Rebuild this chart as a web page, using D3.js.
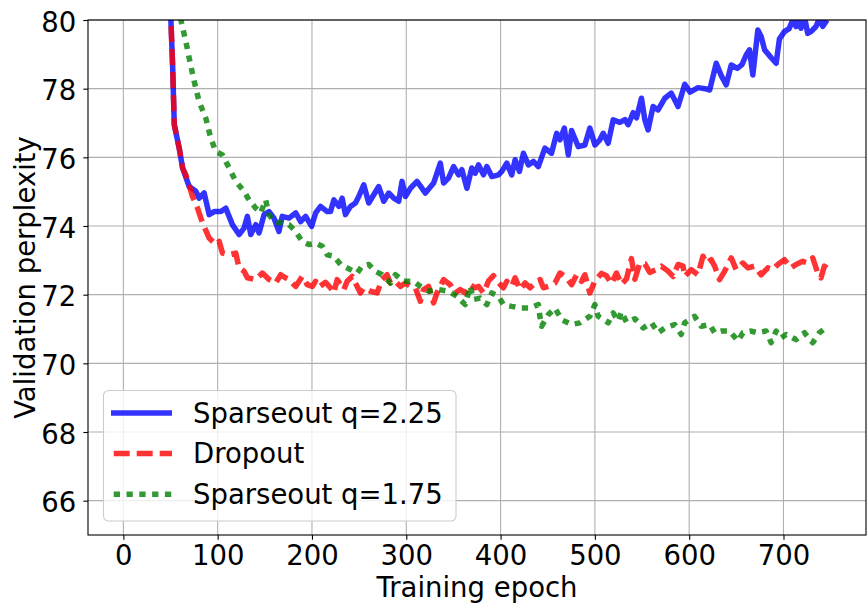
<!DOCTYPE html>
<html>
<head>
<meta charset="utf-8">
<script src="https://cdn.jsdelivr.net/npm/d3@7"></script>
<style>
  html, body { margin: 0; padding: 0; background: #ffffff; }
  svg { display: block; font-family: "DejaVu Sans", sans-serif; }
</style>
</head>
<body>
<svg id="chart" width="868" height="604"></svg>
<script>
// Validation perplexity per training epoch for three regularisation settings.
const xTicks = [0, 100, 200, 300, 400, 500, 600, 700];
const yTicks = [66, 68, 70, 72, 74, 76, 78, 80];
const seriesLabels = ["Sparseout q=2.25", "Dropout", "Sparseout q=1.75"];

const sparseHighEpochs = [47, 50.4, 52.2, 54, 59.2, 62.8, 69.8, 76.9, 80.4, 85.7, 91, 96.3, 103.3, 108.6, 115.6, 122.7, 128, 131.5, 135.1, 140.4, 143.9, 149.2, 154.5, 159.7, 165, 168.5, 175.6, 182.7, 188, 193.3, 199.6, 203.9, 209.1, 216.1, 219.7, 223.2, 228.5, 232, 235.5, 240.8, 246.1, 249.6, 254.9, 260.2, 265.5, 270.8, 276.1, 281.4, 286.7, 292, 295.5, 299.1, 304.4, 311.4, 320.3, 329, 336.1, 339.6, 344.9, 350.2, 355.5, 359, 364.3, 369.5, 373.1, 376.6, 381.9, 385.4, 390.7, 397.8, 401.3, 406.6, 411.8, 415.4, 420, 424.2, 429.5, 434.8, 440, 447, 454, 459.5, 463, 467.6, 471.8, 475.3, 482.4, 489.4, 494.7, 500, 505.3, 508.8, 514.1, 519.4, 526.5, 531.8, 535.3, 540.6, 544.1, 549.4, 553, 556.4, 561.7, 567, 574.1, 581, 588.2, 595.3, 601, 609.3, 617, 621.7, 628.7, 634, 639.3, 644.6, 651, 656, 660.4, 664, 667.5, 672.8, 676.3, 680, 687, 692.2, 695.7, 701, 706, 709.8, 713.3, 715.1, 718.6, 722.2, 725.7, 729.2, 734.5, 738, 741.6, 746.2];
const sparseHighValues = [82.5, 80.0, 78.7, 76.95, 76.27, 75.69, 75.15, 75.01, 74.81, 74.96, 74.33, 74.42, 74.42, 74.52, 74.04, 73.75, 73.94, 74.28, 73.75, 74.04, 73.80, 74.33, 74.42, 74.23, 73.84, 74.28, 74.23, 74.38, 74.13, 74.28, 73.99, 74.38, 74.57, 74.42, 74.42, 74.76, 74.57, 74.81, 74.33, 74.57, 74.67, 74.86, 75.20, 74.67, 74.91, 75.15, 74.72, 74.96, 74.81, 74.72, 75.30, 74.86, 75.10, 75.30, 74.96, 75.25, 75.83, 75.25, 75.40, 75.73, 75.49, 75.64, 75.10, 75.69, 75.54, 75.78, 75.49, 75.73, 75.44, 75.49, 75.59, 75.83, 75.49, 75.93, 75.59, 76.12, 75.78, 75.88, 75.73, 76.27, 76.12, 76.70, 76.51, 76.85, 76.07, 76.78, 76.31, 76.36, 76.85, 76.36, 76.51, 76.70, 76.41, 77.09, 77.02, 77.10, 76.95, 77.30, 77.15, 77.72, 77.09, 76.80, 77.48, 77.38, 77.72, 77.87, 77.48, 78.13, 77.90, 78.03, 78.00, 77.96, 78.74, 78.38, 78.11, 78.69, 78.59, 78.70, 78.98, 79.13, 78.40, 79.71, 79.52, 79.13, 78.90, 78.74, 79.45, 79.66, 79.75, 80.0, 79.81, 79.95, 79.76, 80.1, 79.61, 79.66, 79.81, 80.05, 79.81, 80.0];

const dropoutEpochs = [47, 50.4, 52.2, 54, 59.2, 62.8, 66.3, 73.3, 78.6, 83.9, 91, 98, 101.6, 105.1, 112.1, 119.2, 122.7, 128, 131.5, 140.4, 147.4, 154.5, 161.5, 166.8, 172.1, 175.6, 182.7, 189.7, 195, 200.3, 203.9, 207.4, 214.4, 219.7, 223.2, 226.7, 230.3, 233.8, 237.3, 242.6, 246.1, 251.4, 254.9, 262, 269, 274.3, 279.6, 283.2, 288.4, 293.7, 299, 304.3, 309.6, 314.9, 318.4, 323.7, 329, 332.5, 339.6, 346.6, 351.9, 357.2, 362.5, 367.8, 373.1, 376.6, 381.9, 387.2, 392.5, 397.8, 403, 406.6, 411.8, 415.4, 420.7, 426, 431.3, 436.6, 441.9, 445.4, 450.7, 457.7, 463, 470, 475.3, 480.6, 485.9, 489.4, 494.7, 500, 507, 512.3, 517.6, 522.9, 528.2, 533.5, 538.8, 542.4, 547.7, 553, 558.2, 565.3, 570.5, 577, 582.9, 588.2, 593.5, 595.2, 602.2, 609.3, 614.6, 618.1, 623.4, 627, 632.2, 637.5, 644.6, 649.8, 656.9, 662.2, 669.3, 676.3, 683.4, 688.7, 694, 701, 708, 713.3, 720.4, 725.7, 731, 736.3, 739.8, 743.3, 748.6];
const dropoutValues = [82.5, 80.0, 78.7, 76.95, 76.27, 75.69, 75.49, 74.86, 74.52, 74.09, 73.65, 73.46, 73.55, 73.21, 73.16, 73.21, 72.78, 72.68, 72.49, 72.44, 72.63, 72.44, 72.34, 72.58, 72.49, 72.44, 72.24, 72.53, 72.29, 72.24, 72.39, 72.22, 72.36, 72.20, 72.05, 72.44, 72.29, 72.15, 72.39, 72.53, 72.34, 72.05, 72.20, 72.10, 72.05, 72.44, 72.58, 72.34, 72.39, 72.24, 72.34, 72.24, 72.20, 71.81, 72.15, 72.24, 71.76, 72.05, 72.44, 72.29, 72.05, 72.15, 72.05, 72.29, 72.20, 72.24, 72.05, 72.40, 72.55, 72.35, 72.20, 72.39, 72.24, 72.49, 72.15, 72.34, 72.20, 72.34, 72.44, 72.20, 72.24, 72.34, 72.63, 72.49, 72.29, 72.58, 72.39, 72.58, 72.05, 72.40, 72.62, 72.55, 72.32, 72.63, 72.30, 72.46, 73.05, 72.45, 72.92, 72.90, 72.65, 72.73, 72.83, 72.70, 72.53, 72.88, 72.83, 72.53, 72.73, 72.58, 73.12, 72.92, 73.02, 72.83, 72.44, 72.68, 73.07, 72.73, 72.92, 72.78, 72.83, 72.58, 72.78, 72.73, 72.88, 73.02, 72.78, 72.88, 72.97, 72.92, 73.07, 72.63, 72.49, 72.83, 72.73];

const sparseLowEpochs = [57, 61, 66.3, 69.8, 75.1, 80.4, 87.4, 92.7, 98, 105.1, 112.1, 119.2, 128, 133.3, 140.4, 145.6, 150.9, 154.5, 159.7, 166.8, 175.6, 182.7, 189.7, 196.8, 203.9, 210.9, 216.2, 223.2, 230.3, 240.8, 247.9, 253.2, 260.2, 267.3, 274.3, 283.2, 288.5, 297.2, 307.8, 314.9, 323.7, 334.3, 344.9, 353.7, 362.5, 367.8, 371.3, 378.4, 385.4, 390.7, 397.8, 403, 411.8, 422.4, 431.3, 440.1, 441.9, 443.5, 450.7, 457.7, 464.7, 475.3, 484.2, 494.7, 500, 503.5, 514.1, 519.4, 524.7, 528.2, 533.5, 542.4, 551.2, 560, 567, 574.1, 584.6, 591.6, 595.2, 605.7, 612.8, 621.7, 627, 634, 642.8, 651.7, 657, 665.7, 672.8, 681.6, 686.9, 692.2, 697.5, 702.8, 713.3, 722.2, 731, 738, 745];
const sparseLowValues = [80.8, 80.0, 79.37, 78.89, 78.21, 77.62, 77.14, 76.56, 76.17, 76.07, 75.69, 75.30, 75.01, 74.76, 74.52, 74.38, 74.76, 74.33, 74.13, 74.09, 74.04, 73.84, 73.55, 73.46, 73.50, 73.41, 73.16, 73.12, 72.88, 72.73, 72.63, 72.83, 72.88, 72.68, 72.58, 72.34, 72.58, 72.39, 72.39, 72.24, 72.10, 72.15, 72.10, 71.95, 71.71, 72.24, 71.86, 71.90, 71.71, 72.05, 71.95, 71.71, 71.66, 71.61, 71.61, 71.71, 71.32, 71.08, 71.42, 71.61, 71.27, 71.13, 71.18, 71.37, 71.71, 71.37, 71.18, 71.47, 71.23, 71.50, 71.20, 71.30, 71.03, 71.18, 70.89, 71.03, 71.13, 70.84, 71.18, 71.37, 71.08, 71.13, 70.89, 70.94, 70.94, 70.65, 70.89, 70.94, 70.89, 70.94, 70.60, 70.94, 70.74, 70.84, 70.69, 70.89, 70.60, 70.89, 71.03];

// Plot box and scales
const plot = { left: 88, right: 866, top: 20, bottom: 535 };
const x = d3.scaleLinear().domain([-37.5, 787.5]).range([plot.left, plot.right]);
const y = d3.scaleLinear().domain([65, 80]).range([plot.bottom, plot.top]);

const FONT = 27.5;
const svg = d3.select("#chart");

svg.append("defs").append("clipPath").attr("id", "plot-clip")
  .append("rect")
  .attr("x", plot.left).attr("y", plot.top)
  .attr("width", plot.right - plot.left).attr("height", plot.bottom - plot.top);

// Grid
const grid = svg.append("g").attr("stroke", "#b0b0b0").attr("stroke-width", 1.1);
grid.selectAll("line.gx").data(xTicks).join("line")
  .attr("x1", d => x(d)).attr("x2", d => x(d))
  .attr("y1", plot.top).attr("y2", plot.bottom);
grid.selectAll("line.gy").data(yTicks).join("line")
  .attr("x1", plot.left).attr("x2", plot.right)
  .attr("y1", d => y(d)).attr("y2", d => y(d));

// Series
const series = [
  { label: seriesLabels[0], data: d3.zip(sparseHighEpochs, sparseHighValues), color: "#0000ff", dash: null },
  { label: seriesLabels[1], data: d3.zip(dropoutEpochs, dropoutValues), color: "#ff0000", dash: "16,7" },
  { label: seriesLabels[2], data: d3.zip(sparseLowEpochs, sparseLowValues), color: "#008000", dash: "6.3,6.5" }
];

const line = d3.line().x(d => x(d[0])).y(d => y(d[1]));
const lines = svg.append("g").attr("clip-path", "url(#plot-clip)");
series.forEach(s => {
  lines.append("path")
    .attr("d", line(s.data))
    .attr("fill", "none")
    .attr("stroke", s.color)
    .attr("stroke-opacity", 0.8)
    .attr("stroke-width", 5.5)
    .attr("stroke-linejoin", "round")
    .attr("stroke-dasharray", s.dash);
});

// Axes
const xAxis = svg.append("g")
  .attr("transform", `translate(0,${plot.bottom})`)
  .call(d3.axisBottom(x).tickValues(xTicks).tickSize(4.7).tickPadding(7).tickFormat(d3.format("d")));
const yAxis = svg.append("g")
  .attr("transform", `translate(${plot.left},0)`)
  .call(d3.axisLeft(y).tickValues(yTicks).tickSize(4.7).tickPadding(7).tickFormat(d3.format("d")));

[xAxis, yAxis].forEach(a => {
  a.select(".domain").remove();
  a.selectAll(".tick line").attr("stroke", "#000").attr("stroke-width", 1.1);
  a.selectAll(".tick text").attr("fill", "#000")
    .style("font-family", "DejaVu Sans").style("font-size", FONT + "px");
});
xAxis.selectAll(".tick text").attr("dy", null).attr("y", 30);
yAxis.selectAll(".tick text").attr("dy", "0.4em");

// Spines
svg.append("rect")
  .attr("x", plot.left).attr("y", plot.top)
  .attr("width", plot.right - plot.left).attr("height", plot.bottom - plot.top)
  .attr("fill", "none").attr("stroke", "#000").attr("stroke-width", 1.1);

// Axis titles
svg.append("text")
  .attr("x", (plot.left + plot.right) / 2).attr("y", 597)
  .attr("text-anchor", "middle").style("font-size", FONT + "px")
  .text("Training epoch");
svg.append("text")
  .attr("transform", `translate(35,${(plot.top + plot.bottom) / 2}) rotate(-90)`)
  .attr("text-anchor", "middle").style("font-size", FONT + "px")
  .text("Validation perplexity");

// Legend
const legend = svg.append("g");
legend.append("rect")
  .attr("x", 103.5).attr("y", 390.5).attr("width", 352.5).attr("height", 130.5)
  .attr("rx", 5).attr("ry", 5)
  .attr("fill", "#ffffff").attr("fill-opacity", 0.8)
  .attr("stroke", "#cccccc").attr("stroke-width", 1.1);
const rowY = [413, 453.5, 494.3];
series.forEach((s, i) => {
  legend.append("line")
    .attr("x1", s.dash ? 113.7 : 111).attr("x2", 172)
    .attr("y1", rowY[i]).attr("y2", rowY[i])
    .attr("stroke", s.color).attr("stroke-opacity", 0.8)
    .attr("stroke-width", 5.5)
    .attr("stroke-dasharray", s.dash);
  legend.append("text")
    .attr("x", 193).attr("y", rowY[i] + 9.8)
    .style("font-size", FONT + "px")
    .text(s.label);
});
</script>
</body>
</html>
